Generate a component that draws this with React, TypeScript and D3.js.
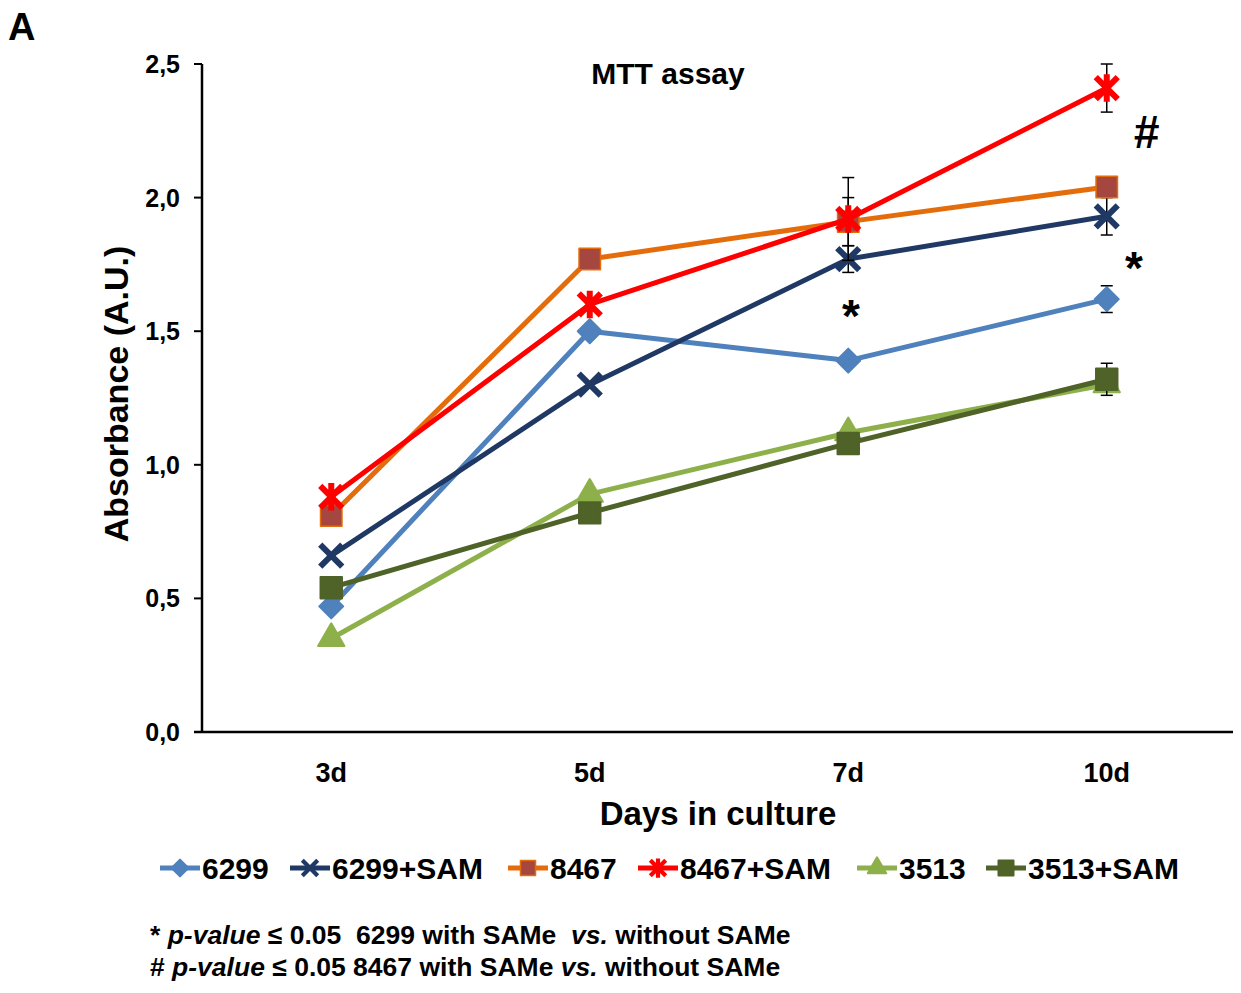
import React from 'react';
import * as d3 from 'd3';

const width = 1241;
const height = 993;

const days = ['3d', '5d', '7d', '10d'];
const yTicks = [0, 0.5, 1, 1.5, 2, 2.5];

const names = ['6299', '6299+SAM', '8467', '8467+SAM', '3513', '3513+SAM'];
const v6299 = [0.47, 1.5, 1.39, 1.62];
const v6299SAM = [0.66, 1.3, 1.77, 1.93];
const v8467 = [0.81, 1.77, 1.91, 2.04];
const v8467SAM = [0.88, 1.6, 1.92, 2.41];
const v3513 = [0.35, 0.89, 1.12, 1.3];
const v3513SAM = [0.54, 0.82, 1.08, 1.32];

// standard deviations (only the visible ones matter)
const e6299 = [0, 0, 0.02, 0.05];
const e6299SAM = [0, 0, 0.05, 0.07];
const e8467 = [0, 0, 0.09, 0];
const e8467SAM = [0, 0, 0.155, 0.09];
const e3513 = [0, 0, 0, 0];
const e3513SAM = [0, 0, 0, 0.06];

const lineColors = ['#4F81BD', '#1F3864', '#E46C0A', '#FF0000', '#8DB04B', '#4F6228'];
const markerFill = ['#4F81BD', 'none', '#A5463F', 'none', '#8DB04B', '#4F6228'];
const markerStroke = ['#4F81BD', '#1F3864', '#E46C0A', '#FF0000', '#8DB04B', '#4F6228'];
const markerKind = ['diamond', 'x', 'square', 'star', 'triangle', 'square'];

const values = [v6299, v6299SAM, v8467, v8467SAM, v3513, v3513SAM];
const errors = [e6299, e6299SAM, e8467, e8467SAM, e3513, e3513SAM];

const legendX = [160, 290, 508, 638, 857, 986];

const font = '"Liberation Sans", Arial, sans-serif';

const x = d3.scaleBand().domain(days).range([202, 1236]).padding(0);
const y = d3.scaleLinear().domain([0, 2.5]).range([732, 64]);
const cx = (d: string) => (x(d) as number) + x.bandwidth() / 2;

const fmt = (v: number) => d3.format('.1f')(v).replace('.', ',');

function markerPath(kind: string, s: number) {
  if (kind === 'square') return d3.symbol(d3.symbolSquare, 460 * s * s)()!;
  if (kind === 'triangle') return d3.symbol(d3.symbolTriangle, 300 * s * s)()!;
  const p = d3.path();
  if (kind === 'diamond') {
    const r = 12 * s;
    p.moveTo(0, -r); p.lineTo(r, 0); p.lineTo(0, r); p.lineTo(-r, 0); p.closePath();
    return p.toString();
  }
  const r = 11 * s;
  p.moveTo(-r, -r); p.lineTo(r, r);
  p.moveTo(-r, r); p.lineTo(r, -r);
  if (kind === 'star') {
    p.moveTo(0, -r * 1.25); p.lineTo(0, r * 1.25);
  }
  return p.toString();
}

const Marker = ({ i, tx, ty, s = 1 }: { i: number; tx: number; ty: number; s?: number }) => {
  const kind = markerKind[i];
  const isLine = kind === 'x' || kind === 'star';
  return (
    <path
      d={markerPath(kind, s)}
      transform={`translate(${tx},${ty})`}
      fill={markerFill[i]}
      stroke={markerStroke[i]}
      strokeWidth={isLine ? 6 * s : kind === 'square' && i === 2 ? 1.5 : 2}
      strokeLinejoin="round"
    />
  );
};

const App = () => {
  const line = d3
    .line<number>()
    .x((_, k) => cx(days[k]))
    .y((v) => y(v));

  return (
    <svg width={width} height={height} style={{ position: 'absolute', left: 0, top: 0, background: '#fff' }} fontFamily={font}>
      <text x={8} y={40} fontSize={38} fontWeight="bold">A</text>
      <text x={668} y={84} fontSize={30} fontWeight="bold" textAnchor="middle">MTT assay</text>

      {/* axes */}
      <line x1={202} x2={202} y1={y(2.5)} y2={y(0)} stroke="#000" strokeWidth={2.5} />
      <line x1={194} x2={1233} y1={y(0)} y2={y(0)} stroke="#000" strokeWidth={2.5} />
      {yTicks.map((t) => (
        <g key={t}>
          <line x1={194} x2={202} y1={y(t)} y2={y(t)} stroke="#000" strokeWidth={2} />
          <text x={180} y={y(t) + 9} fontSize={25} fontWeight="bold" textAnchor="end">{fmt(t)}</text>
        </g>
      ))}
      {days.map((d) => (
        <text key={d} x={cx(d)} y={782} fontSize={27} fontWeight="bold" textAnchor="middle">{d}</text>
      ))}
      <text x={718} y={825} fontSize={33} fontWeight="bold" textAnchor="middle">Days in culture</text>
      <text transform="translate(128,394) rotate(-90)" fontSize={34} fontWeight="bold" textAnchor="middle">Absorbance (A.U.)</text>

      {/* series */}
      {values.map((vals, i) => (
        <g key={names[i]}>
          <path d={line(vals)!} fill="none" stroke={lineColors[i]} strokeWidth={5} strokeLinejoin="round" />
          {vals.map((v, k) =>
            errors[i][k] > 0 ? (
              <g key={k} stroke="#000" strokeWidth={1.5}>
                <line x1={cx(days[k])} x2={cx(days[k])} y1={y(v - errors[i][k])} y2={y(v + errors[i][k])} />
                <line x1={cx(days[k]) - 6} x2={cx(days[k]) + 6} y1={y(v - errors[i][k])} y2={y(v - errors[i][k])} />
                <line x1={cx(days[k]) - 6} x2={cx(days[k]) + 6} y1={y(v + errors[i][k])} y2={y(v + errors[i][k])} />
              </g>
            ) : null
          )}
          {vals.map((v, k) => (
            <Marker key={'m' + k} i={i} tx={cx(days[k])} ty={y(v)} />
          ))}
        </g>
      ))}

      {/* significance marks */}
      <text x={851} y={332} fontSize={46} fontWeight="bold" textAnchor="middle">*</text>
      <text x={1134} y={284} fontSize={46} fontWeight="bold" textAnchor="middle">*</text>
      <text x={1146} y={148} fontSize={46} fontWeight="bold" fontStyle="italic" textAnchor="middle">#</text>

      {/* legend */}
      {names.map((n, i) => (
        <g key={n}>
          <line x1={legendX[i]} x2={legendX[i] + 40} y1={868} y2={868} stroke={lineColors[i]} strokeWidth={5} />
          <Marker i={i} tx={legendX[i] + 20} ty={868} s={0.7} />
          <text x={legendX[i] + 42} y={879} fontSize={30} fontWeight="bold">{n}</text>
        </g>
      ))}

      {/* footnote */}
      <text x={150} y={944} fontSize={26.5} fontWeight="bold" style={{ whiteSpace: 'pre' }}>
        * <tspan fontStyle="italic">p-value</tspan> ≤ 0.05  6299 with SAMe  <tspan fontStyle="italic">vs.</tspan> without SAMe
      </text>
      <text x={150} y={976} fontSize={26.5} fontWeight="bold" style={{ whiteSpace: 'pre' }}>
        # <tspan fontStyle="italic">p-value</tspan> ≤ 0.05 8467 with SAMe <tspan fontStyle="italic">vs.</tspan> without SAMe
      </text>
    </svg>
  );
};

export default App;
